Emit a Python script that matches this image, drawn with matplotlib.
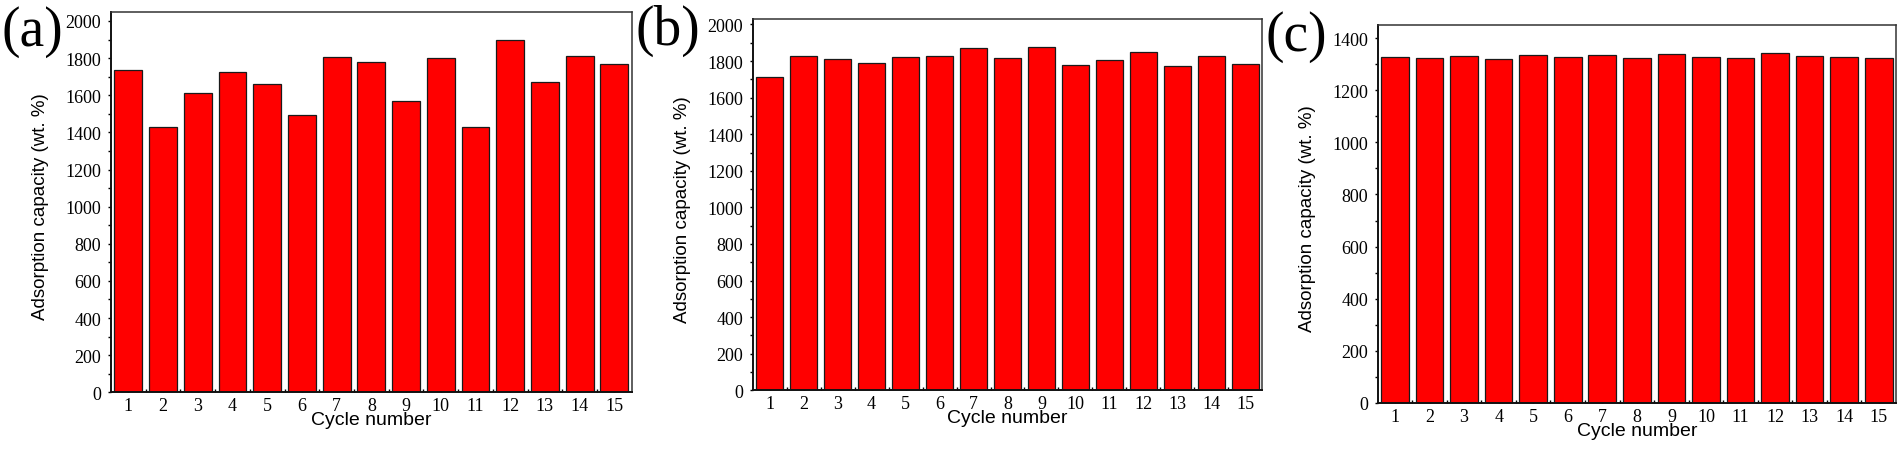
import numpy as np
import matplotlib
matplotlib.use("Agg")
import matplotlib.pyplot as plt
from matplotlib.ticker import MultipleLocator, FixedLocator
from matplotlib.transforms import ScaledTranslation

cycles = np.arange(1, 16)

# adsorption capacity (wt. %) per cycle
cap_a = [1736, 1430, 1611, 1726, 1659, 1491, 1804, 1779, 1571, 1799, 1431, 1898, 1672, 1813, 1767]
cap_b = [1715, 1825, 1809, 1789, 1822, 1829, 1873, 1816, 1878, 1776, 1805, 1851, 1773, 1825, 1785]
cap_c = [1329, 1325, 1331, 1320, 1335, 1329, 1336, 1323, 1339, 1327, 1323, 1343, 1332, 1326, 1325]

panel_labels = ["(a)", "(b)", "(c)"]
ylims = [2050, 2030, 1450]
xlabel = "Cycle number"
ylabel = "Adsorption capacity (wt. %)"

W, H = 1900, 452
fig = plt.figure(figsize=(W / 100, H / 100), dpi=100)

# axes boxes in pixels: left, right, top, bottom
boxes = [(111, 631.7, 12.7, 393.3),
         (752.7, 1262.3, 20, 391.3),
         (1377.7, 1896, 26, 404)]
# panel letter positions (left x, centre y) in pixels
letter_pos = [(2, 32), (635, 31), (1266, 37)]

serif = "Liberation Serif"
sans = "Liberation Sans"

for data, box, ymax, lab, lpos in zip([cap_a, cap_b, cap_c], boxes, ylims, panel_labels, letter_pos):
    l, r, t, b = box
    ax = fig.add_axes([l / W, (H - b) / H, (r - l) / W, (b - t) / H])
    ax.bar(cycles, data, width=0.8, color="#ff0000", edgecolor="#1a1a1a", linewidth=0.9, zorder=2)
    ax.set_xlim(0.5, 15.5)
    ax.set_ylim(0, ymax)

    ax.set_xticks(cycles)
    ax.xaxis.set_minor_locator(FixedLocator(np.arange(1.5, 15, 1)))
    ax.yaxis.set_major_locator(MultipleLocator(200))
    ax.yaxis.set_minor_locator(MultipleLocator(100))

    ax.tick_params(axis="x", which="major", direction="in", length=4.5, width=1, pad=3.6, top=False,
                   labelfontfamily=serif, labelsize=13)
    ax.tick_params(axis="x", which="minor", direction="in", length=2.2, width=1, top=False)
    ax.tick_params(axis="y", which="major", direction="out", length=2.5, width=1, pad=4.5, right=False,
                   labelfontfamily=serif, labelsize=13)
    ax.tick_params(axis="y", which="minor", direction="out", length=2, width=1, right=False)

    for side, sp in ax.spines.items():
        sp.set_color("#111111" if side in ("left", "bottom") else "#333333")
        sp.set_linewidth(1.4 if side in ("left", "bottom") else 1.1)

    ax.set_xlabel(xlabel, fontfamily=sans, fontsize=14)
    ax.xaxis.set_label_coords(0.5, 0, transform=ax.transAxes + ScaledTranslation(0, -19 / 100, fig.dpi_scale_trans))
    ax.set_ylabel(ylabel, fontfamily=sans, fontsize=13.5)
    ax.yaxis.set_label_coords(0, 0.49, transform=ax.transAxes + ScaledTranslation(-62 / 100, 0, fig.dpi_scale_trans))

    fig.text(lpos[0] / W, 1 - lpos[1] / H, lab, fontfamily=serif, fontsize=40, ha="left", va="center")

fig.savefig("out.png", dpi=100)
